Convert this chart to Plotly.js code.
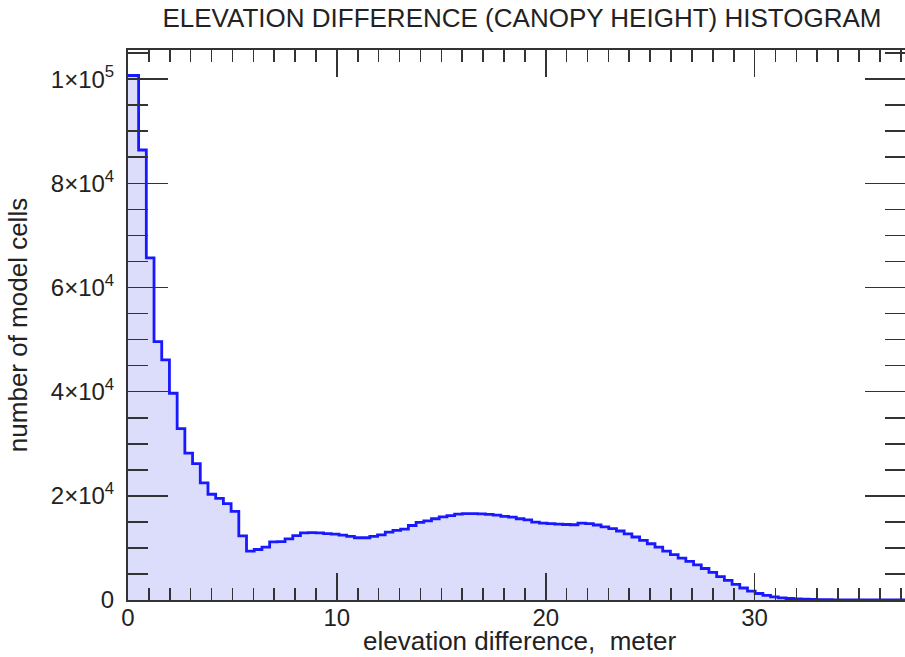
<!DOCTYPE html>
<html>
<head>
<meta charset="utf-8">
<script src="https://cdn.plot.ly/plotly-3.0.1.min.js"></script>
<style>html,body{margin:0;padding:0;background:#fff;}</style>
</head>
<body>
<div id="chart" style="width:905px;height:657px;"></div>
<script>
// Histogram bins (meters): first level starts at the axis origin, then uniform bins
const binWidth = 0.369;
const firstEdge = 0.508;

// Number of model cells per bin
const counts = [
  100700, 86400, 65700, 49600, 46100, 39700, 32900, 28200, 26200, 22500,
  20300, 19500, 18500, 17000, 12300, 9400, 9700, 10150, 11150, 11200,
  11750, 12350, 12900, 12950, 12900, 12750, 12650, 12450, 12200, 11950,
  11950, 12200, 12500, 13050, 13350, 13600, 14300, 14900, 15200, 15600,
  15950, 16200, 16500, 16580, 16580, 16550, 16450, 16300, 16050, 15900,
  15600, 15400, 14950, 14750, 14650, 14550, 14500, 14450, 14750, 14650,
  14400, 14050, 13700, 13250, 12700, 12100, 11450, 10800, 10150, 9400,
  8700, 8050, 7400, 6750, 6050, 5300, 4500, 3750, 3000, 2300,
  1700, 1250, 870, 610, 420, 290, 220, 160, 110, 80,
  55, 40, 28, 20, 14, 10, 7, 5, 3, 2, 1
];

const xTickVals = [0, 10, 20, 30];
const xTickText = ['0', '10', '20', '30'];
const yTickVals = [0, 20000, 40000, 60000, 80000, 100000];
const yTickText = ['0', '2×10<sup>4</sup>', '4×10<sup>4</sup>', '6×10<sup>4</sup>', '8×10<sup>4</sup>', '1×10<sup>5</sup>'];

const titleText = 'ELEVATION DIFFERENCE (CANOPY HEIGHT) HISTOGRAM';
const xLabel = 'elevation difference,\u00a0 meter';
const yLabel = 'number of model cells';

// bin left edges
const edges = counts.map((_, i) => i === 0 ? 0 : firstEdge + (i - 1) * binWidth);
const xs = edges.concat([firstEdge + (counts.length - 1) * binWidth]);
const ys = counts.concat([counts[counts.length - 1]]);

const FONT = 'Liberation Sans, Arial, sans-serif';
const AX = '#333333';

const trace = {
  x: xs, y: ys, type: 'scatter', mode: 'lines',
  line: {shape: 'hv', color: 'rgb(25,25,255)', width: 2.8},
  fill: 'tozeroy', fillcolor: 'rgb(220,221,250)',
  hoverinfo: 'skip'
};

const layout = {
  width: 905, height: 657,
  margin: {l: 128, r: 0, t: 50, b: 57, pad: 0},
  paper_bgcolor: '#ffffff', plot_bgcolor: '#ffffff',
  showlegend: false,
  title: {text: titleText, font: {family: FONT, size: 26, color: '#222'},
          x: 0.507, xref: 'paper', y: 0.972, yref: 'container', yanchor: 'middle'},
  xaxis: {
    range: [0, 37.2], showgrid: false, zeroline: false,
    showline: true, linecolor: AX, linewidth: 2, mirror: 'ticks',
    ticks: 'inside', ticklen: 27, tickwidth: 1.6, tickcolor: AX,
    tickmode: 'array', tickvals: xTickVals, ticktext: xTickText,
    ticklabelstandoff: -5,
    tickfont: {family: FONT, size: 24, color: '#222'},
    minor: {dtick: 1, ticks: 'inside', ticklen: 12, tickwidth: 1.6, tickcolor: AX, showgrid: false}
  },
  yaxis: {
    range: [0, 105600], showgrid: false, zeroline: false,
    showline: true, linecolor: AX, linewidth: 2, mirror: 'ticks',
    ticks: 'inside', ticklen: 40, tickwidth: 1.6, tickcolor: AX,
    tickmode: 'array', tickvals: yTickVals, ticktext: yTickText,
    ticklabelstandoff: 7,
    tickfont: {family: FONT, size: 24, color: '#222'},
    minor: {dtick: 5000, ticks: 'inside', ticklen: 20, tickwidth: 1.6, tickcolor: AX, showgrid: false},
    title: {text: yLabel, font: {family: FONT, size: 26, color: '#222'}, standoff: 16}
  },
  annotations: [{
    text: xLabel, showarrow: false,
    xref: 'paper', x: 0.504, xanchor: 'center',
    yref: 'paper', y: -0.074, yanchor: 'middle',
    font: {family: FONT, size: 26, color: '#222'}
  }]
};

Plotly.newPlot('chart', [trace], layout, {staticPlot: true, displayModeBar: false});
</script>
</body>
</html>
